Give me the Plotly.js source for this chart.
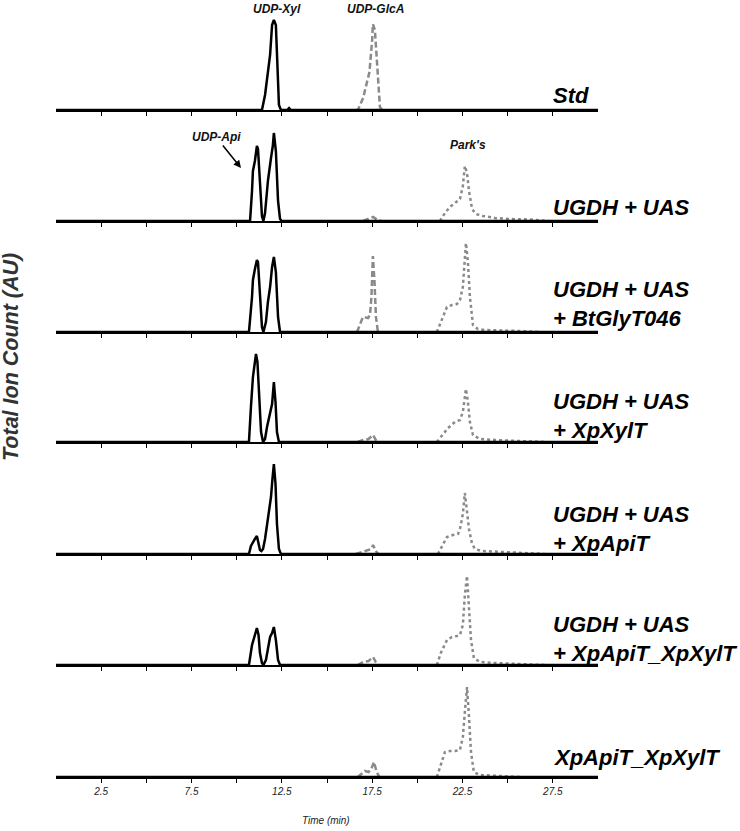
<!DOCTYPE html>
<html><head><meta charset="utf-8">
<script src="https://cdn.plot.ly/plotly-3.0.1.min.js"></script>
<style>html,body{margin:0;padding:0;background:#fff}</style>
</head><body><div id="chart" style="width:740px;height:831px"></div>
<script>
// ---------- DATA ----------
const sampleLabels = ['Std', 'UGDH + UAS', 'UGDH + UAS<br>+ BtGlyT046', 'UGDH + UAS<br>+ XpXylT',
  'UGDH + UAS<br>+ XpApiT', 'UGDH + UAS<br>+ XpApiT_XpXylT', 'XpApiT_XpXylT'];
const tickVals = [2.5, 5, 7.5, 10, 12.5, 15, 17.5, 20, 22.5, 25, 27.5];
const tickText = ['2.5', '', '7.5', '', '12.5', '', '17.5', '', '22.5', '', '27.5'];

// UDP-Api / UDP-Xyl (black, solid): time (min), intensity (AU)
const nuc_std_t = [0, 11.4, 11.57, 11.73, 11.85, 11.96, 12.06, 12.17, 12.23, 12.34, 12.45, 12.8, 12.9, 13.0, 30];
const nuc_std_y = [0, 0, 15, 40, 55, 85, 90, 85, 50, 5, 0, 0, 2, 0, 0];
const nuc_uas_t = [0, 10.74, 10.85, 10.9, 11.01, 11.12, 11.18, 11.29, 11.4, 11.48, 11.57, 11.68, 11.73, 11.9, 12.0, 12.06, 12.17, 12.29, 12.4, 12.5, 30];
const nuc_uas_y = [0, 0, 30, 50, 60, 75, 72, 35, 5, 0, 8, 30, 40, 63, 75, 88, 70, 20, 2, 0, 0];
const nuc_bt_t = [0, 10.68, 10.85, 10.9, 11.0, 11.12, 11.18, 11.29, 11.4, 11.48, 11.62, 11.73, 11.85, 11.96, 12.06, 12.17, 12.29, 12.4, 30];
const nuc_bt_y = [0, 0, 35, 52, 62, 72, 70, 40, 5, 0, 10, 30, 45, 65, 75, 60, 15, 0, 0];
const nuc_xyl_t = [0, 10.68, 10.79, 10.9, 11.01, 11.07, 11.15, 11.23, 11.35, 11.46, 11.57, 11.68, 11.85, 11.96, 12.06, 12.15, 12.23, 12.34, 30];
const nuc_xyl_y = [0, 0, 35, 65, 80, 88, 80, 50, 10, 0, 3, 15, 29, 38, 60, 40, 10, 0, 0];
const nuc_api_t = [0, 10.68, 10.79, 10.9, 11.01, 11.12, 11.21, 11.29, 11.37, 11.46, 11.57, 11.68, 11.79, 11.9, 11.98, 12.06, 12.15, 12.23, 12.34, 12.45, 30];
const nuc_api_y = [0, 0, 8, 12, 15, 18, 12, 4, 3, 5, 15, 28, 40, 57, 75, 90, 70, 30, 5, 0, 0];
const nuc_both_t = [0, 10.68, 10.85, 10.96, 11.07, 11.12, 11.21, 11.29, 11.4, 11.48, 11.62, 11.73, 11.85, 11.96, 12.06, 12.17, 12.29, 12.4, 30];
const nuc_both_y = [0, 0, 20, 28, 33, 37, 30, 12, 2, 0, 5, 18, 28, 32, 38, 25, 5, 0, 0];
const nuc_only_t = [0, 30];
const nuc_only_y = [0, 0];

// UDP-GlcA (grey, dashed)
const glca_std_t = [16.6, 16.71, 17.0, 17.25, 17.35, 17.5, 17.54, 17.65, 17.75, 17.85, 17.93, 18.05];
const glca_std_y = [0, 0, 12, 30, 38, 70, 86, 80, 50, 15, 3, 0];
const glca_uas_t = [17.0, 17.3, 17.55, 17.8, 18.0];
const glca_uas_y = [0, 2, 4, 1, 0];
const glca_bt_t = [16.66, 16.82, 16.99, 17.27, 17.38, 17.46, 17.54, 17.63, 17.71, 17.82];
const glca_bt_y = [0, 8, 15, 14, 17, 35, 76, 50, 15, 0];
const glca_xyl_t = [16.7, 17.0, 17.3, 17.55, 17.7, 17.85];
const glca_xyl_y = [0, 2, 3, 7, 2, 0];
const glca_api_t = [16.6, 16.9, 17.2, 17.45, 17.55, 17.7, 17.85];
const glca_api_y = [0, 2, 4, 5, 9, 3, 0];
const glca_both_t = [16.7, 17.0, 17.3, 17.55, 17.7, 17.85];
const glca_both_y = [0, 3, 4, 8, 3, 0];
const glca_only_t = [16.7, 16.9, 17.1, 17.3, 17.45, 17.6, 17.75, 17.9];
const glca_only_y = [0, 3, 6, 5, 8, 15, 5, 0];

// Park's nucleotide (grey, dotted)
const park_uas_t = [21.25, 21.53, 21.8, 22.08, 22.36, 22.52, 22.63, 22.75, 22.86, 23.03, 23.24, 23.63, 24.3, 25.1, 26.2, 27.3];
const park_uas_y = [0, 8, 14, 18, 22, 35, 55, 48, 30, 12, 7, 5, 3, 2, 1.5, 0];
const park_bt_t = [21.08, 21.3, 21.64, 21.92, 22.19, 22.36, 22.52, 22.69, 22.8, 22.91, 23.08, 23.35, 23.74, 25.7, 26.8];
const park_bt_y = [0, 10, 25, 27, 28, 32, 45, 89, 70, 35, 7, 3, 2, 1, 0];
const park_xyl_t = [21.08, 21.42, 21.7, 22.08, 22.36, 22.52, 22.69, 22.8, 22.91, 23.08, 23.46, 24.3, 26.2, 27.06];
const park_xyl_y = [0, 8, 14, 20, 22, 30, 53, 40, 20, 7, 3, 2, 1, 0];
const park_api_t = [21.14, 21.36, 21.64, 21.97, 22.25, 22.36, 22.52, 22.63, 22.75, 22.86, 23.03, 23.19, 23.57, 24.57, 26.2, 27.06];
const park_api_y = [0, 8, 17, 19, 20, 25, 40, 61, 45, 25, 10, 5, 3, 2, 1, 0];
const park_both_t = [21.08, 21.3, 21.64, 21.92, 22.19, 22.36, 22.52, 22.63, 22.75, 22.86, 22.97, 23.13, 23.46, 24.3, 26.2, 27.06];
const park_both_y = [0, 12, 25, 28, 29, 30, 40, 70, 89, 60, 25, 7, 3, 2, 1, 0];
const park_only_t = [21.08, 21.3, 21.53, 21.8, 22.08, 22.36, 22.52, 22.63, 22.75, 22.86, 22.97, 23.13, 23.46, 24.57, 25.7];
const park_only_y = [0, 12, 25, 26, 26, 27, 40, 65, 90, 60, 25, 5, 2, 1, 0];

// ---------- BUILD ----------
const nucT = [nuc_std_t, nuc_uas_t, nuc_bt_t, nuc_xyl_t, nuc_api_t, nuc_both_t, nuc_only_t];
const nucY = [nuc_std_y, nuc_uas_y, nuc_bt_y, nuc_xyl_y, nuc_api_y, nuc_both_y, nuc_only_y];
const glcaT = [glca_std_t, glca_uas_t, glca_bt_t, glca_xyl_t, glca_api_t, glca_both_t, glca_only_t];
const glcaY = [glca_std_y, glca_uas_y, glca_bt_y, glca_xyl_y, glca_api_y, glca_both_y, glca_only_y];
const parkT = [null, park_uas_t, park_bt_t, park_xyl_t, park_api_t, park_both_t, park_only_t];
const parkY = [null, park_uas_y, park_bt_y, park_xyl_y, park_api_y, park_both_y, park_only_y];

const H = 831;
const baselines = [110, 221, 332, 442, 554, 665, 777];   // pixel rows of panel baselines
const panelPx = 100;

const grey = '#8a8a8a';
const data = [];
const layout = {
  width: 740, height: 831,
  margin: {l: 56, r: 142, t: 0, b: 0},
  paper_bgcolor: '#fff', plot_bgcolor: 'rgba(0,0,0,0)',
  showlegend: false,
  font: {family: 'Liberation Sans, Arial, sans-serif', color: '#111'},
  annotations: []
};

for (let i = 0; i < 7; i++) {
  const n = i + 1;
  const xa = n === 1 ? 'x' : 'x' + n;
  const ya = n === 1 ? 'y' : 'y' + n;
  const bottom = 1 - baselines[i] / H;
  const top = bottom + panelPx / H;
  layout[n === 1 ? 'xaxis' : 'xaxis' + n] = {
    domain: [0, 1], anchor: ya, range: [0, 30],
    showline: true, linecolor: '#000', linewidth: 2,
    showgrid: false, zeroline: false,
    ticks: 'outside', ticklen: 4, tickwidth: 1, tickcolor: '#000',
    tickmode: 'array', tickvals: tickVals, ticktext: tickText,
    showticklabels: n === 7,
    tickfont: {size: 10, style: 'italic', color: '#222'}
  };
  layout[n === 1 ? 'yaxis' : 'yaxis' + n] = {
    domain: [bottom, top], anchor: xa, range: [0, 100], visible: false, fixedrange: true
  };
  if (parkT[i]) data.push({x: parkT[i], y: parkY[i], xaxis: xa, yaxis: ya, mode: 'lines',
    line: {color: grey, width: 2.5, dash: 'dot'}, hoverinfo: 'skip'});
  data.push({x: glcaT[i], y: glcaY[i], xaxis: xa, yaxis: ya, mode: 'lines',
    line: {color: grey, width: 2.5, dash: '6px,3px'}, hoverinfo: 'skip'});
  data.push({x: nucT[i], y: nucY[i], xaxis: xa, yaxis: ya, mode: 'lines',
    line: {color: '#000', width: 2.5}, hoverinfo: 'skip'});
}

const labelCenters = [96, 207, 304, 416, 529, 639, 757];
const lblFont = {size: 22, weight: 'bold', style: 'italic', color: '#000', family: 'Liberation Sans, Arial, sans-serif'};
sampleLabels.forEach((t, i) => {
  layout.annotations.push({xref: 'paper', yref: 'paper', x: (551 - 56) / 542, y: 1 - labelCenters[i] / H,
    xanchor: 'left', yanchor: 'middle', align: 'left', text: t, showarrow: false, font: lblFont});
});

const smallFont = {size: 12, weight: 'bold', style: 'italic', color: '#111', family: 'Liberation Sans, Arial, sans-serif'};
const px2x = p => (p - 56) / 542;
const px2y = p => 1 - p / H;
const ann = o => Object.assign({xref: 'paper', yref: 'paper', xanchor: 'center', yanchor: 'middle', showarrow: false}, o);
layout.annotations.push(
  ann({x: px2x(277), y: px2y(9), text: 'UDP-Xyl', font: smallFont}),
  ann({x: px2x(375), y: px2y(9), text: 'UDP-GlcA', font: smallFont}),
  ann({x: px2x(468), y: px2y(145), text: "Park's", font: smallFont}),
  ann({x: px2x(241), y: px2y(168), text: 'UDP-Api', showarrow: true,
    ax: -25, ay: -31, arrowhead: 2, arrowsize: 1, arrowwidth: 1.5, arrowcolor: '#000', font: smallFont}),
  ann({x: px2x(326), y: px2y(820), text: 'Time (min)',
    font: {size: 10, style: 'italic', color: '#222', family: 'Liberation Sans, Arial, sans-serif'}}),
  ann({x: px2x(11), y: px2y(357), text: 'Total Ion Count (AU)', textangle: -90,
    font: {size: 21.5, weight: 'bold', style: 'italic', color: '#333', family: 'Liberation Sans, Arial, sans-serif'}})
);

Plotly.newPlot('chart', data, layout, {displayModeBar: false, staticPlot: true});
</script></body></html>
